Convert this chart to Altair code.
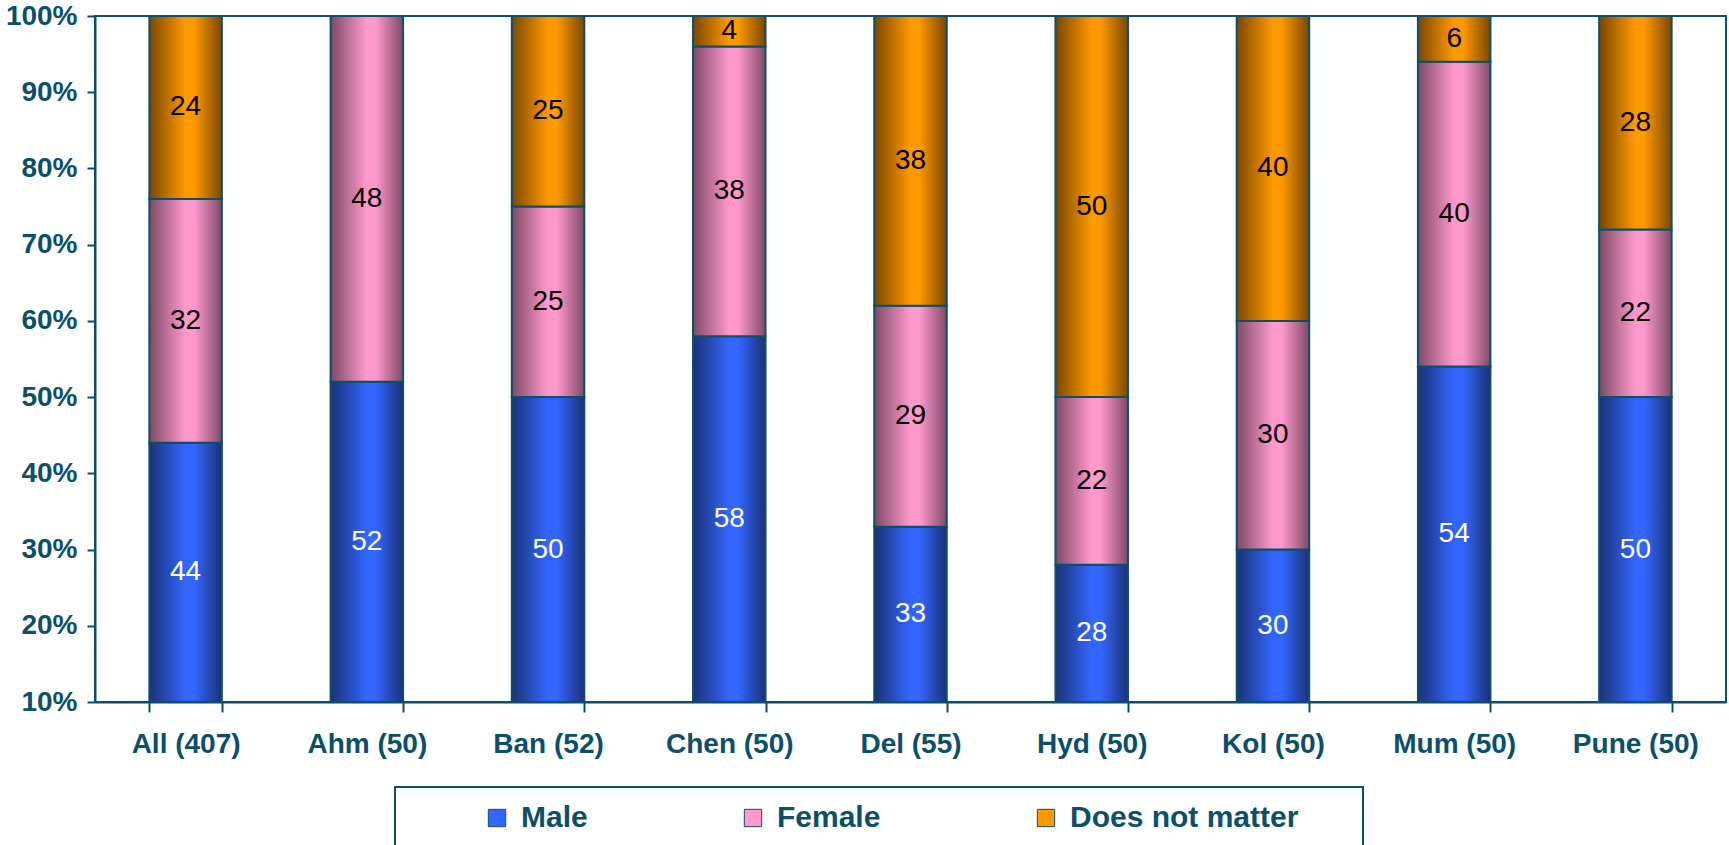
import altair as alt
import pandas as pd

# Survey: preferred gender, by city (number of respondents in brackets)
cities = ["All (407)", "Ahm (50)", "Ban (52)", "Chen (50)", "Del (55)",
          "Hyd (50)", "Kol (50)", "Mum (50)", "Pune (50)"]
series = ["Male", "Female", "Does not matter"]
male = [44, 52, 50, 58, 33, 28, 30, 54, 50]
female = [32, 48, 25, 38, 29, 22, 30, 40, 22]
no_pref = [24, 0, 25, 4, 38, 50, 40, 6, 28]

bright = ["#3366FF", "#FF99CC", "#FF9900"]
dark = ["#1A3276", "#7E4A66", "#7A4800"]
TEAL = "#0B4F6B"
Y_MIN = 10

rows = []
for i, city in enumerate(cities):
    base = 0
    for s, vals in zip(series, [male, female, no_pref]):
        v = vals[i]
        lo, hi = base, base + v
        rows.append({"city": city, "series": s, "value": v, "lo": lo, "hi": hi,
                     "mid": (max(lo, Y_MIN) + hi) / 2})
        base = hi
df = pd.DataFrame(rows)

x_enc = alt.X(
    "city:N", sort=cities, title=None,
    scale=alt.Scale(paddingInner=0.6, paddingOuter=0.3),
    axis=alt.Axis(labelAngle=0, labelFont="Liberation Sans", labelFontSize=28,
                  labelFontWeight="bold", labelColor=TEAL, labelPadding=18,
                  tickBand="extent", tickSize=10, tickColor=TEAL, tickWidth=2,
                  domainColor=TEAL, domainWidth=2, grid=False),
)
y_scale = alt.Scale(domain=[Y_MIN, 100], clamp=True, nice=False)
y_axis = alt.Axis(values=list(range(10, 101, 10)), labelExpr="datum.value + '%'",
                  labelFont="Liberation Sans", labelFontSize=28, labelFontWeight="bold",
                  labelColor=TEAL, labelPadding=10, tickSize=8, tickColor=TEAL,
                  tickWidth=2, domainColor=TEAL, domainWidth=2, grid=False, title=None)

base = alt.Chart(df)


def cylinder(i):
    return alt.Gradient(
        gradient="linear", x1=0, x2=1, y1=0, y2=0,
        stops=[
            alt.GradientStop(color=dark[i], offset=0),
            alt.GradientStop(color=bright[i], offset=0.5),
            alt.GradientStop(color=bright[i], offset=0.62),
            alt.GradientStop(color=dark[i], offset=1),
        ],
    )


bars = [
    base.transform_filter((alt.datum.series == s) & (alt.datum.value > 0))
    .mark_bar(fill=cylinder(i), stroke=TEAL, strokeWidth=2)
    .encode(x=x_enc, y=alt.Y("lo:Q", scale=y_scale, axis=y_axis), y2="hi:Q")
    for i, s in enumerate(series)
]

labels = base.transform_filter(alt.datum.value > 0).mark_text(
    font="Liberation Sans", fontSize=28, baseline="middle"
).encode(
    x=x_enc,
    y=alt.Y("mid:Q", scale=y_scale),
    text="value:Q",
    color=alt.condition(alt.datum.series == "Male", alt.value("white"), alt.value("black")),
)

legend_marks = base.mark_square(size=0).encode(
    x=x_enc,
    y=alt.Y("hi:Q", scale=y_scale),
    color=alt.Color(
        "series:N", scale=alt.Scale(domain=series, range=bright),
        legend=alt.Legend(
            title=None, orient="none", legendX=387, legendY=787, direction="horizontal",
            symbolType="square", symbolSize=300, symbolStrokeColor=TEAL,
            symbolStrokeWidth=1, symbolOpacity=1, labelFont="Liberation Sans",
            labelFontSize=30, labelFontWeight="bold", labelColor=TEAL, labelOffset=9,
            columnPadding=150, padding=0, labelLimit=400,
        ),
    ),
)

legend_frame = alt.Chart(pd.DataFrame({"k": [0]})).mark_rect(
    filled=False, stroke=TEAL, strokeWidth=2
).encode(x=alt.value(300), x2=alt.value(1268), y=alt.value(771), y2=alt.value(960))

chart = alt.layer(*bars, labels, legend_marks, legend_frame).properties(
    width=1631, height=686,
    autosize=alt.AutoSizeParams(type="none"),
    padding={"left": 95, "top": 16, "right": 3, "bottom": 143},
    background="white",
).configure_view(stroke=TEAL, strokeWidth=2)

chart.save("out.html", embed_options={"renderer": "svg", "actions": False})
